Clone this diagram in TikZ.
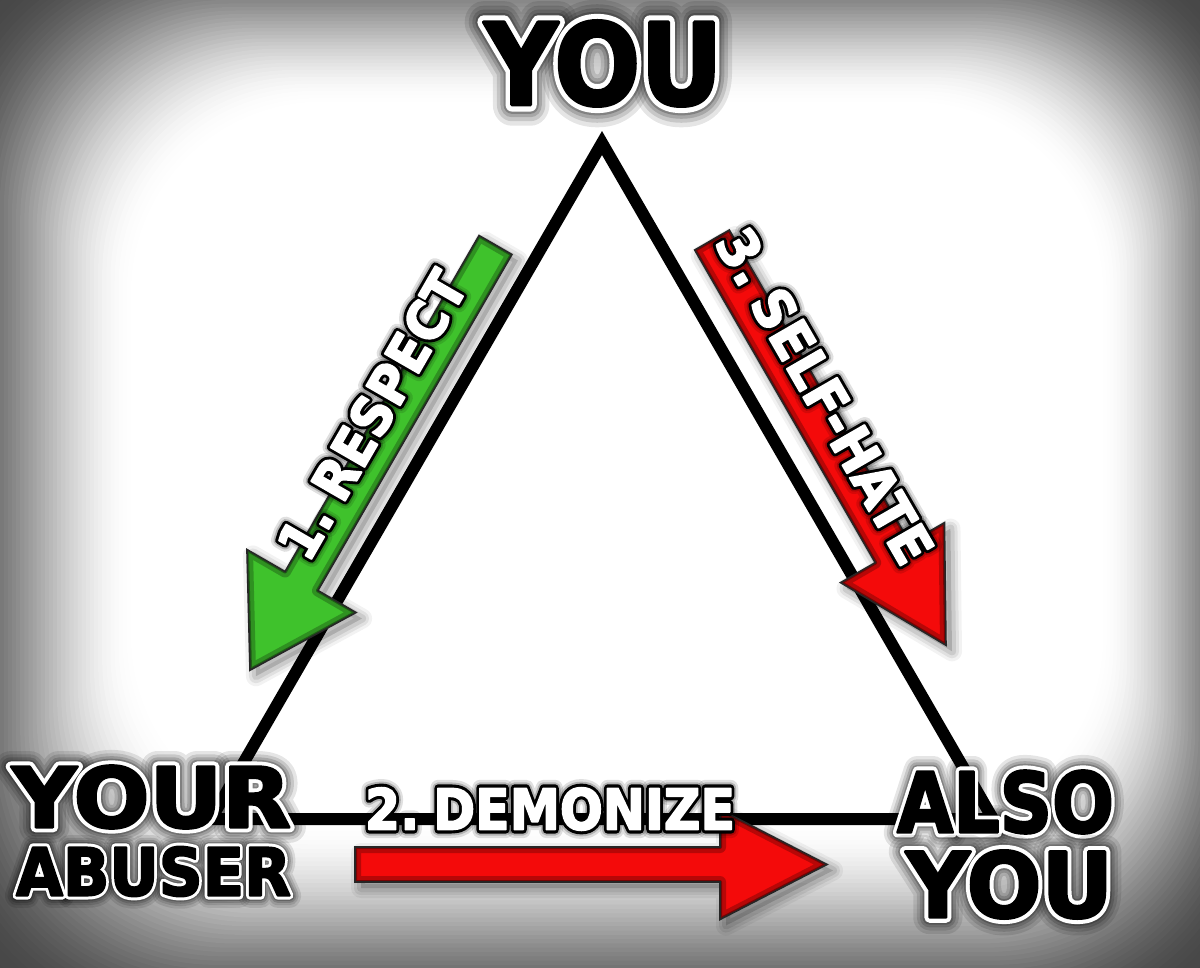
\documentclass[tikz,border=0pt]{standalone}
\usepackage{fontspec}
\usepackage{graphicx}
\setmainfont{DejaVu Sans}
\newfontfamily\dfill{DejaVu Sans Bold}[FakeBold=3]
\newfontfamily\doutl{DejaVu Sans Bold}[FakeBold=12]
\newfontfamily\dglowa{DejaVu Sans Bold}[FakeBold=16]
\newfontfamily\dglowb{DejaVu Sans Bold}[FakeBold=22]
\newfontfamily\dglowc{DejaVu Sans Bold}[FakeBold=29]
\newfontfamily\dglowd{DejaVu Sans Bold}[FakeBold=37]
\newfontfamily\lfill{DejaVu Sans Bold}[FakeBold=3]
\newfontfamily\loutl{DejaVu Sans Bold}[FakeBold=14]
\newfontfamily\lglowa{DejaVu Sans Bold}[FakeBold=21]
\newfontfamily\lglowb{DejaVu Sans Bold}[FakeBold=30]
\definecolor{agreen}{HTML}{3FC22C}
\definecolor{ared}{HTML}{F40A0A}
\newcommand\sz[1]{\fontsize{\fpeval{#1/0.729}}{\fpeval{#1/0.729}}\selectfont\spaceskip=0.16em\relax}
\tikzset{txt/.style={inner sep=0pt, outer sep=0pt, line join=round}}
% dark label: black letters, white outline, dark glow
\newcommand\darklabel[6]{%
 \node[txt, text=black, text opacity=0.10, rotate=#3] at #2 {\resizebox{#4pt}{#5pt}{\dglowd\sz{#5}#6}};
 \node[txt, text=black, text opacity=0.13, rotate=#3] at #2 {\resizebox{#4pt}{#5pt}{\dglowc\sz{#5}#6}};
 \node[txt, text=black, text opacity=0.16, rotate=#3] at #2 {\resizebox{#4pt}{#5pt}{\dglowb\sz{#5}#6}};
 \node[txt, text=black, text opacity=0.22, rotate=#3] at #2 {\resizebox{#4pt}{#5pt}{\dglowa\sz{#5}#6}};
 \node[txt, text=white, rotate=#3] at #2 {\resizebox{#4pt}{#5pt}{\doutl\sz{#5}#6}};
 \node[txt, text=black, rotate=#3] (#1) at #2 {\resizebox{#4pt}{#5pt}{\dfill\sz{#5}#6}};
}
% light label: white letters, black outline, dark glow
\newcommand\lightlabel[6]{%
 \node[txt, text=black, text opacity=0.12, rotate=#3] at #2 {\resizebox{#4pt}{#5pt}{\lglowb\sz{#5}#6}};
 \node[txt, text=black, text opacity=0.20, rotate=#3] at #2 {\resizebox{#4pt}{#5pt}{\lglowa\sz{#5}#6}};
 \node[txt, text=black, rotate=#3] at #2 {\resizebox{#4pt}{#5pt}{\loutl\sz{#5}#6}};
 \node[txt, text=white, rotate=#3] (#1) at #2 {\resizebox{#4pt}{#5pt}{\lfill\sz{#5}#6}};
}
\newcommand\ap[1]{\path[#1] (0,-\aw) -- (\aL,-\aw) -- (\aL,-\aH) -- ({\aL+\aT},0) -- (\aL,\aH) -- (\aL,\aw) -- (0,\aw) -- cycle;}
\newcommand\drawarrow[8]{%
 \def\aL{#4}\def\aw{#5}\def\aH{#6}\def\aT{#7}%
 \begin{scope}[shift={({#1+6},{#2+6})}, rotate=#3]
   \ap{fill=black, fill opacity=0.15}
   \foreach \lw/\op in {20/0.05, 14/0.07, 8/0.09}{\ap{draw=black, draw opacity=\op, line width=\lw, line join=round}}
 \end{scope}
 \begin{scope}[shift={(#1,#2)}, rotate=#3]
   \begin{scope}
     \ap{clip}
     \ap{fill=#8}
     \ap{draw=#8!45!black, line width=12, draw opacity=0.45}
     \ap{draw=#8!30!black, line width=4, draw opacity=0.6}
   \end{scope}
   \ap{draw=black!85, line width=1.6, line join=miter}
 \end{scope}
}
\begin{document}
\begin{tikzpicture}[x=1pt, y=-1pt, line join=round]
\useasboundingbox (0,0) rectangle (1200,968);
% vignette background
\fill[black!75] (0,0) rectangle (1200,968);
\foreach \i in {0,...,50}{
  \pgfmathsetmacro\vgT{\i/50}
  \pgfmathsetmacro\vgS{3*\vgT*\vgT-2*\vgT*\vgT*\vgT}
  \pgfmathsetmacro\vgP{28+72*\vgS}
  \pgfmathsetmacro\vgXL{-70+205*\vgT}
  \pgfmathsetmacro\vgXR{1270-170*\vgT}
  \pgfmathsetmacro\vgYT{-70+175*\vgT}
  \pgfmathsetmacro\vgYB{1038-215*\vgT}
  \pgfmathsetmacro\vgR{230-40*\vgT}
  \fill[white!\vgP!black, rounded corners=\vgR pt] (\vgXL,\vgYT) rectangle (\vgXR,\vgYB);
}
% triangle
\coordinate (T) at (602,143);
\coordinate (L) at (211,819);
\coordinate (R) at (993,819);
\draw[line width=12, line join=miter] (T) -- (L) -- (R) -- cycle;
% arrows
\drawarrow{495.5}{245}{240}{388}{19}{63}{103}{agreen}
\drawarrow{712}{240}{300}{361}{20}{60}{107}{ared}
\drawarrow{355}{864.5}{0}{365}{17.5}{55}{107}{ared}
% labels
\lightlabel{respect}{(372,415)}{60}{322}{40}{1. RESPECT}
\lightlabel{selfhate}{(825,396)}{-60}{377}{40}{3. SELF-HATE}
\lightlabel{demonize}{(550,809)}{0}{370}{42}{2. DEMONIZE}
\darklabel{you}{(603.5,63.5)}{0}{238}{84}{YOU}
\darklabel{your}{(151.5,797)}{0}{279}{62}{YOUR}
\darklabel{abuser}{(153.5,871.5)}{0}{275}{49}{ABUSER}
\darklabel{also}{(1005.5,802)}{0}{217}{62}{ALSO}
\darklabel{alsoyou}{(1009.5,884.5)}{0}{207}{67}{YOU}
\end{tikzpicture}
\end{document}
